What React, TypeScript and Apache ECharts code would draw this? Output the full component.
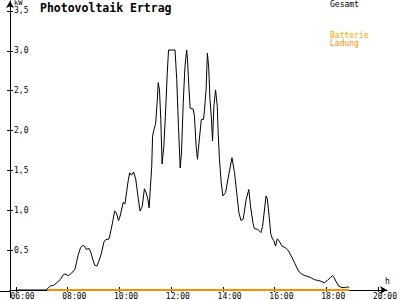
import React, { useEffect, useRef } from "react";
import * as echarts from "echarts";

const TIMES = [
  "06:00", "07:10", "07:20", "07:28", "07:35", "07:43", "07:50", "07:54", "08:02", "08:09",
  "08:17", "08:20", "08:24", "08:30", "08:35", "08:39", "08:43", "08:50", "08:54", "08:58",
  "09:03", "09:08", "09:13", "09:18", "09:24", "09:28", "09:36", "09:41", "09:45", "09:49",
  "09:53", "09:58", "10:02", "10:06", "10:09", "10:13", "10:17", "10:21", "10:24", "10:28",
  "10:33", "10:38", "10:43", "10:48", "10:53", "10:58", "11:02", "11:06", "11:09", "11:12",
  "11:15", "11:17", "11:21", "11:24", "11:28", "11:30", "11:33", "11:36", "11:39", "11:43",
  "11:47", "11:51", "11:54", "12:09", "12:13", "12:17", "12:21", "12:24", "12:28", "12:32",
  "12:36", "12:38", "12:41", "12:44", "12:51", "12:54", "12:58", "13:01", "13:03", "13:10",
  "13:15", "13:17", "13:21", "13:24", "13:27", "13:30", "13:33", "13:36", "13:39", "13:43",
  "13:47", "13:49", "13:52", "13:56", "14:00", "14:06", "14:13", "14:21", "14:27", "14:32",
  "14:37", "14:42", "14:47", "14:54", "15:00", "15:04", "15:10", "15:13", "15:21", "15:28",
  "15:32", "15:40", "15:43", "15:47", "15:51", "15:55", "15:58", "16:02", "16:06", "16:10",
  "16:17", "16:25", "16:32", "16:40", "16:47", "16:55", "17:02", "17:10", "17:17", "17:25",
  "17:32", "17:40", "17:47", "17:55", "18:02", "18:10", "18:14", "18:17", "18:23", "18:28",
  "18:36", "18:44", "18:49", "18:53"
];

const GESAMT_KW = [
  0, 0, 0.05, 0.06, 0.09, 0.13, 0.19, 0.2, 0.18, 0.21,
  0.26, 0.33, 0.43, 0.53, 0.56, 0.55, 0.51, 0.52, 0.47, 0.39,
  0.31, 0.3, 0.37, 0.45, 0.6, 0.63, 0.64, 0.76, 0.87, 0.99,
  0.97, 0.87, 0.93, 1.03, 1.1, 1.08, 1.24, 1.39, 1.47, 1.44,
  1.48, 1.39, 1.18, 0.99, 1.05, 1.27, 1.22, 1.14, 1.03, 1.3,
  1.55, 1.93, 2.03, 2.08, 2.39, 2.6, 2.51, 2.14, 1.58, 1.8,
  2.22, 2.72, 3.01, 3.01, 2.64, 2.05, 1.53, 1.72, 2.35, 2.8,
  3.01, 2.89, 2.55, 2.28, 2.27, 2.18, 1.8, 1.64, 1.76, 2.14,
  2.14, 2.24, 2.51, 2.97, 2.8, 2.39, 2.18, 1.87, 2.3, 2.51,
  2.3, 1.97, 1.64, 1.35, 1.18, 1.22, 1.43, 1.66, 1.47, 1.22,
  0.97, 0.87, 0.89, 1.14, 1.26, 1.05, 0.83, 0.77, 0.76, 0.72,
  0.8, 1.18, 1.14, 0.93, 0.7, 0.64, 0.62, 0.55, 0.64, 0.62,
  0.55, 0.53, 0.49, 0.41, 0.33, 0.24, 0.2, 0.18, 0.17, 0.15,
  0.13, 0.12, 0.11, 0.09, 0.12, 0.16, 0.18, 0.16, 0.1, 0.05,
  0.03, 0.03, 0.04, 0.03
];

const BATTERIE_TIMES = ["07:13", "18:53"];
const BATTERIE_KW = [0, 0];

const X_TICKS = ["06:00", "08:00", "10:00", "12:00", "14:00", "16:00", "18:00", "20:00"];
const Y_TICKS = [0.5, 1, 1.5, 2, 2.5, 3, 3.5];

const FONT = '"DejaVu Sans Mono", "Liberation Mono", monospace';

const toH = (s: string) => {
  const [h, m] = s.split(":").map(Number);
  return h + m / 60;
};

export default function App() {
  const ref = useRef<HTMLDivElement>(null);

  useEffect(() => {
    if (!ref.current) return;
    const chart = echarts.init(ref.current, undefined, { renderer: "svg" });
    const xTickVals = X_TICKS.map(toH);
    const labelShift = 0.26;
    const xMin = 5.775;
    const xMax = 20.34;
    const yMax = 3.625;

    chart.setOption({
      animation: false,
      backgroundColor: "#ffffff",
      grid: { left: 10, top: 1, right: 2, bottom: 9 },
      xAxis: [
        {
          type: "value",
          min: xMin,
          max: xMax,
          axisLine: {
            show: true,
            onZero: false,
            symbol: ["none", "arrow"],
            symbolSize: [6, 7],
            lineStyle: { color: "#000", width: 1 },
          },
          axisTick: {
            show: true,
            customValues: xTickVals,
            length: 2,
            lineStyle: { color: "#000", width: 1 },
          },
          axisLabel: {
            show: true,
            customValues: xTickVals.map((v) => v + labelShift),
            formatter: (v: number) => {
              const idx = xTickVals.findIndex((t) => Math.abs(t + labelShift - v) < 0.01);
              return idx >= 0 ? X_TICKS[idx] : "";
            },
            color: "#000",
            fontFamily: FONT,
            fontSize: 8,
            margin: 2,
          },
          splitLine: { show: false },
        },
        {
          type: "value",
          min: xMin,
          max: xMax,
          position: "bottom",
          axisLine: { show: false, onZero: false },
          axisTick: {
            show: true,
            inside: true,
            customValues: xTickVals,
            length: 3,
            lineStyle: { color: "#000", width: 1 },
          },
          axisLabel: { show: false },
          splitLine: { show: false },
        },
      ],
      yAxis: [
        {
          type: "value",
          min: 0,
          max: yMax,
          axisLine: {
            show: true,
            onZero: false,
            symbol: ["none", "arrow"],
            symbolSize: [6, 7],
            lineStyle: { color: "#000", width: 1 },
          },
          axisTick: {
            show: true,
            customValues: Y_TICKS,
            length: 3,
            lineStyle: { color: "#000", width: 1 },
          },
          axisLabel: {
            show: true,
            inside: true,
            customValues: Y_TICKS,
            formatter: (v: number) => v.toFixed(1).replace(".", ","),
            color: "#000",
            fontFamily: FONT,
            fontSize: 8,
            margin: 4,
          },
          splitLine: { show: false },
        },
        {
          type: "value",
          min: 0,
          max: yMax,
          position: "left",
          axisLine: { show: false, onZero: false },
          axisTick: {
            show: true,
            inside: true,
            customValues: Y_TICKS,
            length: 3,
            lineStyle: { color: "#000", width: 1 },
          },
          axisLabel: { show: false },
          splitLine: { show: false },
        },
      ],
      series: [
        {
          name: "Gesamt",
          type: "line",
          xAxisIndex: 0,
          yAxisIndex: 0,
          data: TIMES.map((t, i) => [toH(t), GESAMT_KW[i]]),
          showSymbol: false,
          symbol: "none",
          lineStyle: { color: "#000", width: 1 },
          z: 3,
        },
        {
          name: "Batterie Ladung",
          type: "line",
          xAxisIndex: 0,
          yAxisIndex: 0,
          data: BATTERIE_TIMES.map((t, i) => [toH(t), BATTERIE_KW[i]]),
          showSymbol: false,
          symbol: "none",
          lineStyle: { color: "#ff8c00", width: 2 },
          z: 4,
          clip: false,
        },
      ],
      graphic: [
        {
          type: "text",
          x: 40,
          y: 2,
          style: {
            text: "Photovoltaik Ertrag",
            fill: "#000",
            font: `bold 11.5px ${FONT}`,
            verticalAlign: "top",
          },
        },
        {
          type: "text",
          x: 14,
          y: -1,
          style: { text: "kW", fill: "#000", font: `7px ${FONT}`, verticalAlign: "top" },
        },
        {
          type: "text",
          x: 385,
          y: 277,
          style: { text: "h", fill: "#000", font: `8px ${FONT}`, verticalAlign: "top" },
        },
        {
          type: "text",
          x: 330,
          y: 0,
          style: { text: "Gesamt", fill: "#000", font: `8px ${FONT}`, verticalAlign: "top" },
        },
        {
          type: "text",
          x: 330,
          y: 31,
          style: { text: "Batterie", fill: "#ffa500", font: `8px ${FONT}`, verticalAlign: "top" },
        },
        {
          type: "text",
          x: 330,
          y: 39,
          style: { text: "Ladung", fill: "#ff8c00", font: `8px ${FONT}`, verticalAlign: "top" },
        },
        {
          type: "line",
          shape: { x1: 0, y1: 291.5, x2: 10, y2: 291.5 },
          style: { stroke: "#000", lineWidth: 1 },
        },
        {
          type: "line",
          shape: { x1: 10.5, y1: 291, x2: 10.5, y2: 298 },
          style: { stroke: "#000", lineWidth: 1 },
        },
      ],
    });

    return () => chart.dispose();
  }, []);

  return (
    <div
      ref={ref}
      style={{ position: "fixed", left: 0, top: 0, width: 400, height: 300, background: "#fff" }}
    />
  );
}
